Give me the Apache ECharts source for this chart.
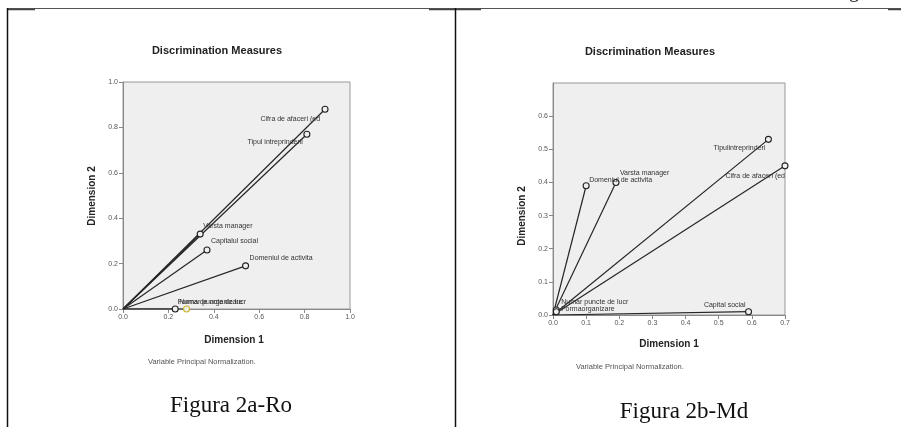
<!DOCTYPE html>
<html>
<head>
<meta charset="utf-8">
<script src="https://cdn.jsdelivr.net/npm/echarts@6/dist/echarts.min.js"></script>
<style>
html,body{margin:0;padding:0;background:#fff;}
#c{width:901px;height:427px;}
</style>
</head>
<body>
<div id="c"></div>
<script>
// ---- data: Figura 2a-Ro ----
const varsRo = ['Cifra de afaceri (ed', 'Tipul intreprinderii', 'Varsta manager', 'Capitalul social', 'Domeniul de activita', 'Numar puncte de lucr', 'Forma de organizare'];
const dim1Ro = [0.89, 0.81, 0.34, 0.37, 0.54, 0.23, 0.28];
const dim2Ro = [0.88, 0.77, 0.33, 0.26, 0.19, 0.00, 0.00];
const ticksRo = ['0.0', '0.2', '0.4', '0.6', '0.8', '1.0'];

// ---- data: Figura 2b-Md ----
const varsMd = ['Tipulintreprinderi', 'Cifra de afaceri (ed', 'Domeniul de activita', 'Varsta manager', 'Capital social', 'Numar puncte de lucr', 'Formaorganizare'];
const dim1Md = [0.65, 0.70, 0.10, 0.19, 0.59, 0.01, 0.01];
const dim2Md = [0.53, 0.45, 0.39, 0.40, 0.01, 0.015, 0.01];
const ticksMd = ['0.0', '0.1', '0.2', '0.3', '0.4', '0.5', '0.6', '0.7'];

// ---- text ----
const chartTitle = 'Discrimination Measures';
const xName = 'Dimension 1';
const yName = 'Dimension 2';
const note = 'Variable Principal Normalization.';
const captionRo = 'Figura 2a-Ro';
const captionMd = 'Figura 2b-Md';

// ---- label placement (style only) ----
const labRo = [['right',-5,10],['right',-4,8],['left',3,-8],['left',4,-9],['left',4,-8],['left',4,-7],['left',-9,-7]];
const labMd = [['right',-3,9],['right',0,10],['left',3,-6],['left',4,-9],['right',-3,-7],['left',5,-8],['left',5,-3]];
const markerFill = { 'Forma de organizare': '#e6dc6a' };

function buildSeries(names, xs, ys, lab, gi) {
  return names.map((n, i) => ({
    type: 'line',
    name: n,
    xAxisIndex: gi, yAxisIndex: gi,
    data: [
      { value: [0, 0], symbol: 'none' },
      { value: [xs[i], ys[i]],
        label: { show: true, position: 'inside', align: lab[i][0], verticalAlign: 'middle',
                 offset: [lab[i][1], lab[i][2]], formatter: n,
                 fontFamily: 'Arial, Liberation Sans, sans-serif', fontSize: 7, color: '#333' } }
    ],
    symbol: 'circle', symbolSize: 6,
    itemStyle: { color: '#efefef', borderColor: markerFill[n] ? '#c8b830' : '#222', borderWidth: 1.1 },
    lineStyle: { color: '#262626', width: 1.2 },
    silent: true, z: 3
  }));
}

function axisBase(max, interval, ticks) {
  return {
    type: 'value', min: 0, max: max, interval: interval,
    axisLine: { show: true, onZero: false, lineStyle: { color: '#888', width: 1 } },
    axisTick: { show: true, inside: false, length: 4, lineStyle: { color: '#888' } },
    axisLabel: { show: true, fontFamily: 'Arial, Liberation Sans, sans-serif', fontSize: 7, color: '#555', margin: 5,
                 formatter: v => ticks[Math.round(v / interval)] },
    splitLine: { show: false }
  };
}

const F = 'Arial, "Liberation Sans", sans-serif';
function txt(x, y, t, font, fill, align, rot) {
  return { type: 'text', x: x, y: y, rotation: rot || 0, silent: true,
           style: { text: t, font: font, fill: fill, textAlign: align || 'center', textVerticalAlign: 'middle' } };
}

const chart = echarts.init(document.getElementById('c'), null, { renderer: 'canvas' });
const yMd = axisBase(0.7, 0.1, ticksMd);
yMd.axisLabel.showMaxLabel = false;

chart.setOption({
  animation: false,
  grid: [
    { left: 123, top: 82, width: 227, height: 227, show: true, backgroundColor: '#efefef', borderColor: '#999', borderWidth: 1 },
    { left: 553, top: 83, width: 232, height: 232, show: true, backgroundColor: '#efefef', borderColor: '#999', borderWidth: 1 }
  ],
  xAxis: [
    Object.assign(axisBase(1.0, 0.2, ticksRo), { gridIndex: 0 }),
    Object.assign(axisBase(0.7, 0.1, ticksMd), { gridIndex: 1 })
  ],
  yAxis: [
    Object.assign(axisBase(1.0, 0.2, ticksRo), { gridIndex: 0 }),
    Object.assign(yMd, { gridIndex: 1 })
  ],
  series: buildSeries(varsRo, dim1Ro, dim2Ro, labRo, 0).concat(buildSeries(varsMd, dim1Md, dim2Md, labMd, 1)),
  graphic: [
    // page frame
    { type: 'line', silent: true, shape: { x1: 7, y1: 8.5, x2: 901, y2: 8.5 }, style: { stroke: '#555', lineWidth: 1 } },
    { type: 'line', silent: true, shape: { x1: 7, y1: 9.5, x2: 35, y2: 9.5 }, style: { stroke: '#444', lineWidth: 1.5 } },
    { type: 'line', silent: true, shape: { x1: 429, y1: 9.5, x2: 481, y2: 9.5 }, style: { stroke: '#444', lineWidth: 1.5 } },
    { type: 'line', silent: true, shape: { x1: 888, y1: 9.5, x2: 901, y2: 9.5 }, style: { stroke: '#444', lineWidth: 1.5 } },
    { type: 'line', silent: true, shape: { x1: 7.5, y1: 8, x2: 7.5, y2: 427 }, style: { stroke: '#111', lineWidth: 1.5 } },
    { type: 'line', silent: true, shape: { x1: 455.5, y1: 8, x2: 455.5, y2: 427 }, style: { stroke: '#111', lineWidth: 1.5 } },
    txt(854, -8, 'g', '20px "Liberation Serif", "Times New Roman", serif', '#111'),
    // left chart texts
    txt(217, 51, chartTitle, 'bold 11px ' + F, '#222'),
    txt(92, 196, yName, 'bold 10px ' + F, '#222', 'center', Math.PI / 2),
    txt(234, 340, xName, 'bold 10px ' + F, '#222'),
    txt(148, 362, note, '7.5px ' + F, '#555', 'left'),
    txt(231, 406, captionRo, '23px "Liberation Serif", "Times New Roman", serif', '#111'),
    // right chart texts
    txt(650, 52, chartTitle, 'bold 11px ' + F, '#222'),
    txt(522, 216, yName, 'bold 10px ' + F, '#222', 'center', Math.PI / 2),
    txt(669, 344, xName, 'bold 10px ' + F, '#222'),
    txt(576, 367, note, '7.5px ' + F, '#555', 'left'),
    txt(684, 412, captionMd, '23px "Liberation Serif", "Times New Roman", serif', '#111')
  ]
});
</script>
</body>
</html>
